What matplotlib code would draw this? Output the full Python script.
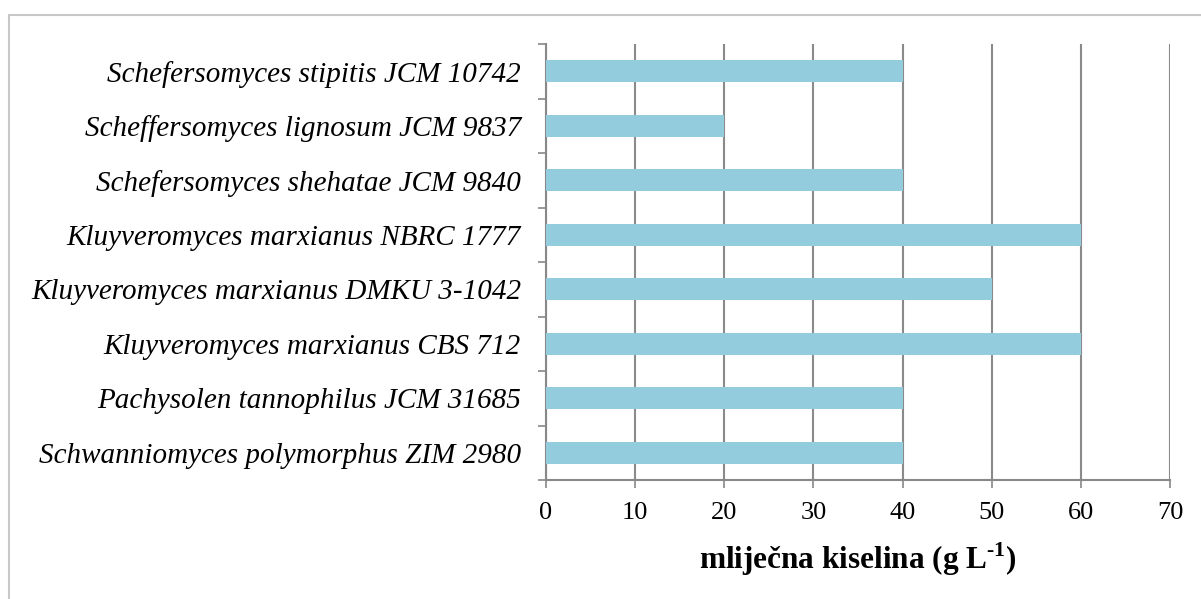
import matplotlib.pyplot as plt
from matplotlib.patches import Rectangle

strains = [
    "Schwanniomyces polymorphus ZIM 2980",
    "Pachysolen tannophilus JCM 31685",
    "Kluyveromyces marxianus CBS 712",
    "Kluyveromyces marxianus DMKU 3-1042",
    "Kluyveromyces marxianus NBRC 1777",
    "Schefersomyces shehatae JCM 9840",
    "Scheffersomyces lignosum JCM 9837",
    "Schefersomyces stipitis JCM 10742",
]
lactic_acid = [40, 40, 60, 50, 60, 40, 20, 40]
x_ticks = [0, 10, 20, 30, 40, 50, 60, 70]

plt.rcParams["font.family"] = ["Liberation Serif", "DejaVu Serif"]
plt.rcParams["mathtext.fontset"] = "custom"
plt.rcParams["mathtext.rm"] = "Liberation Serif:bold"

W, H = 1201, 599
fig = plt.figure(figsize=(W / 100, H / 100), dpi=100)
ax = fig.add_axes([546 / W, 1 - 480 / H, (1170 - 546) / W, (480 - 44) / H])

# outer frame (light gray)
fig.patches.append(Rectangle((8.5 / W, -0.01), 1.05, 1 - 14.5 / H + 0.01,
                             transform=fig.transFigure, fill=False,
                             edgecolor="#c8c8c8", linewidth=1.5))

pos = list(range(len(strains)))
ax.barh(pos, lactic_acid, height=0.4, color="#93cddd", zorder=3)

ax.set_xlim(0, 70)
ax.set_ylim(-0.5, len(strains) - 0.5)
ax.set_xticks(x_ticks)
ax.set_xticklabels([str(t) for t in x_ticks], fontsize=19)
ax.set_yticks([p - 0.5 for p in pos] + [len(strains) - 0.5])
ax.set_yticklabels([])
ax.set_yticks(pos, minor=True)
ax.set_yticklabels(strains, minor=True, fontsize=21, style="italic")
ax.tick_params(axis="y", which="minor", length=0, pad=18)
ax.tick_params(axis="y", which="major", length=6, color="#888888", width=1.2)
ax.tick_params(axis="x", length=6, color="#888888", width=1.2, pad=10)

ax.grid(axis="x", color="#8a8a8a", linewidth=1.5, zorder=0)
for side in ["top", "right"]:
    ax.spines[side].set_visible(False)
for side in ["left", "bottom"]:
    ax.spines[side].set_color("#888888")
    ax.spines[side].set_linewidth(1.5)

ax.set_xlabel("mliječna kiselina (g L$^{\\text{-1}}$)", fontsize=22.5,
              fontweight="bold", labelpad=12)

fig.savefig("out.png", dpi=100)
